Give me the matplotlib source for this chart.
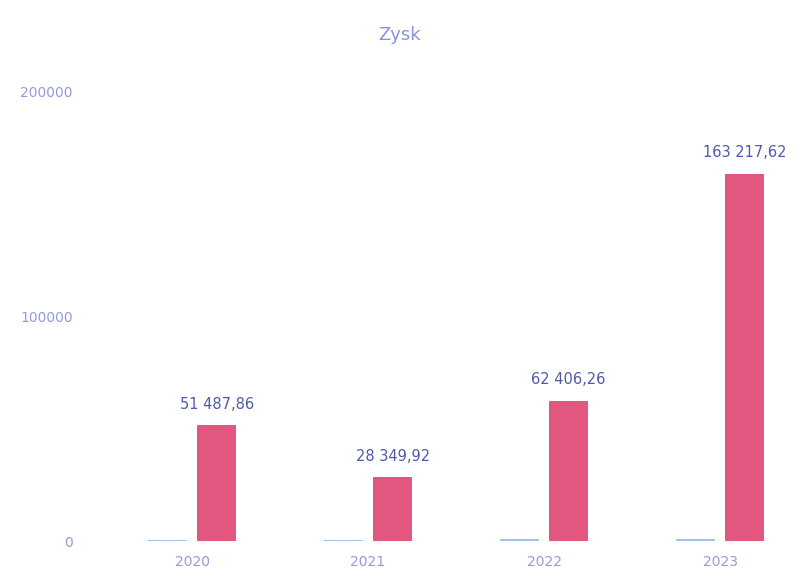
import numpy as np
import matplotlib
matplotlib.use("Agg")
import matplotlib.pyplot as plt

# dane
years = ["2020", "2021", "2022", "2023"]
zysk = [51487.86, 28349.92, 62406.26, 163217.62]
small = [700, 600, 800, 900]  # prawie niewidoczna seria
labels = ["51 487,86", "28 349,92", "62 406,26", "163 217,62"]
yticks = [0, 100000, 200000]

fig = plt.figure(figsize=(8, 5.8), dpi=100)
ax = fig.add_axes([0.119, 0.067, 0.88, 0.834])

x = np.arange(len(years))
w = 0.225
ax.bar(x - 0.14, small, w, color="#9cc3ee")
bars = ax.bar(x + 0.14, zysk, w, color="#e2577f")

for b, lab in zip(bars, labels):
    ax.text(b.get_x() + b.get_width() / 2, b.get_height() + 6000, lab,
            ha="center", va="bottom", fontsize=10.5, color="#4f5aa8")

ax.set_xlim(-0.55, 3.45)
ax.set_ylim(0, 215000)
ax.set_xticks(x)
ax.set_xticklabels(years)
ax.set_yticks(yticks)
ax.set_yticklabels([str(v) for v in yticks])
ax.tick_params(axis="both", length=0, labelsize=10, colors="#959ade")
ax.tick_params(axis="y", pad=16)
ax.tick_params(axis="x", pad=10)
for s in ax.spines.values():
    s.set_visible(False)

fig.text(0.5, 0.94, "Zysk", ha="center", va="center", fontsize=13, color="#8c93dc")

fig.savefig("out.png", dpi=100)
